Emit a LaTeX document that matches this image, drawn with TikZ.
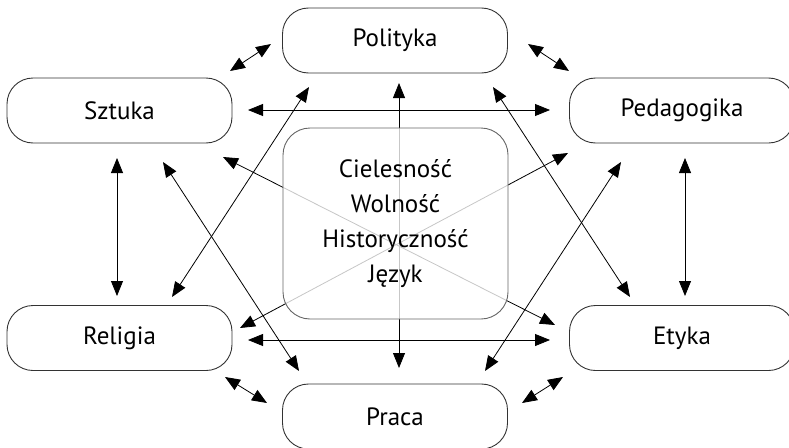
\documentclass[tikz,border=0pt]{standalone}
\usepackage{fontspec}
\setmainfont{PT Sans}
\usetikzlibrary{arrows.meta}
\begin{document}
\begin{tikzpicture}[x=1pt,y=-1pt,
  box/.style={draw=black!80,line width=0.9pt,rounded corners=26pt,
    minimum width=225pt,minimum height=65pt,inner sep=0pt,font=\fontsize{25}{28}\selectfont},
  core/.style={draw=black!60,line width=0.9pt,rounded corners=27pt,
    minimum width=225pt,minimum height=191pt,inner sep=0pt,
    fill=white,fill opacity=0.78,text opacity=1,align=center,
    font=\fontsize{25}{35}\selectfont},
  biarrow/.style={line width=0.8pt,{Triangle[length=15pt,width=12pt]}-{Triangle[length=15pt,width=12pt]}}]
\useasboundingbox (0,0) rectangle (789,447);
\begin{scope}
\clip (0,0) rectangle (789,447);

% outer topics
\node[box] (pol) at (395,40.5) {Polityka};
\node[box] (szt) at (119.5,110.5) {Sztuka};
\node[box] (ped) at (682,110.5) {Pedagogika};
\node[box] (rel) at (119.5,338) {Religia};
\node[box] (ety) at (682,338) {Etyka};
\node[box] (pra) at (395,416.5) {Praca};

% arrow end points
\coordinate (c1a) at (399,83);   \coordinate (c1b) at (399,368);
\coordinate (c2a) at (223,157);  \coordinate (c2b) at (555,325);
\coordinate (c3a) at (568,153);  \coordinate (c3b) at (240,328);

\coordinate (d1a) at (172,297);  \coordinate (d1b) at (309,87);
\coordinate (d2a) at (163,162);  \coordinate (d2b) at (299,371);
\coordinate (d3a) at (493,87);   \coordinate (d3b) at (630,297);
\coordinate (d4a) at (621,162);  \coordinate (d4b) at (485,371);

\coordinate (s1a) at (230,71);   \coordinate (s1b) at (271,44);
\coordinate (s2a) at (528,44);   \coordinate (s2b) at (569,71);
\coordinate (s3a) at (225,377);  \coordinate (s3b) at (267,403);
\coordinate (s4a) at (522,403);  \coordinate (s4b) at (563,377);

\coordinate (h1a) at (248,110);  \coordinate (h1b) at (550,110);
\coordinate (h2a) at (248,340);  \coordinate (h2b) at (550,340);
\coordinate (v1a) at (117,158);  \coordinate (v1b) at (117,296);
\coordinate (v2a) at (685,158);  \coordinate (v2b) at (685,296);

% lines through the centre
\draw[biarrow] (c1a) -- (c1b);
\draw[biarrow] (c2a) -- (c2b);
\draw[biarrow] (c3a) -- (c3b);

% long diagonals
\draw[biarrow] (d1a) -- (d1b);
\draw[biarrow] (d2a) -- (d2b);
\draw[biarrow] (d3a) -- (d3b);
\draw[biarrow] (d4a) -- (d4b);

% neighbours
\draw[biarrow] (s1a) -- (s1b);
\draw[biarrow] (s2a) -- (s2b);
\draw[biarrow] (s3a) -- (s3b);
\draw[biarrow] (s4a) -- (s4b);
\draw[biarrow] (h1a) -- (h1b);
\draw[biarrow] (h2a) -- (h2b);
\draw[biarrow] (v1a) -- (v1b);
\draw[biarrow] (v2a) -- (v2b);

% central box, veiling the lines that cross it
\node[core] (cen) at (395.5,223.5) {Cielesność\\Wolność\\Historyczność\\Język};
\end{scope}
\end{tikzpicture}
\end{document}
